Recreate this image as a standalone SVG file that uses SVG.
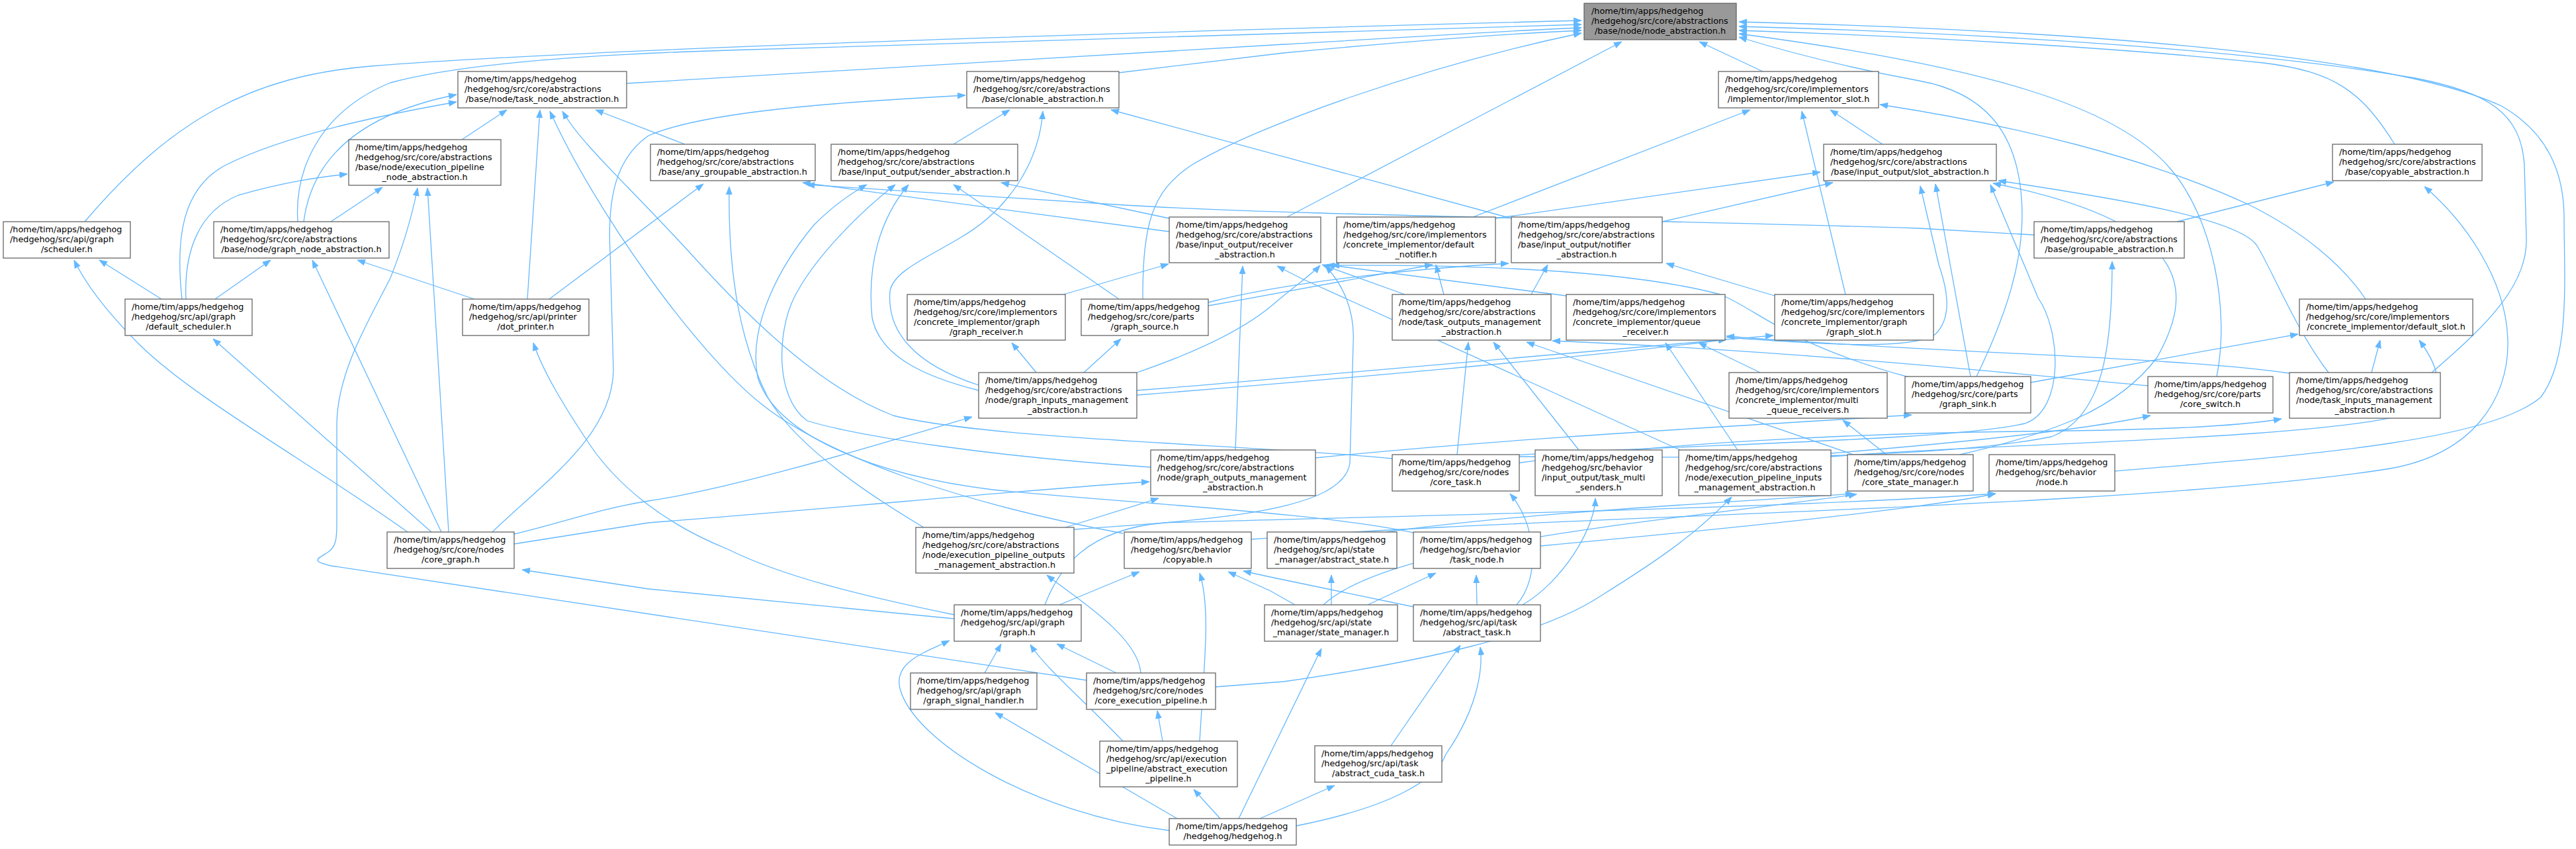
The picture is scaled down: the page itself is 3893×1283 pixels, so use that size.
<svg xmlns="http://www.w3.org/2000/svg" width="3893" height="1283" viewBox="0 0 3893 1283">
<style>
.node rect{fill:#ffffff;stroke:#666666;stroke-width:1.3}
#n1 rect{fill:#999999}
.t{font-family:"DejaVu Sans",sans-serif;font-size:12.8px;fill:#000}
.c{font-family:"DejaVu Sans",sans-serif;font-size:12.8px;fill:#000;text-anchor:middle}
#edges path{fill:none;stroke:#63b8ff;stroke-width:1.3;marker-end:url(#a)}
</style>
<defs>
<marker id="a" markerUnits="userSpaceOnUse" markerWidth="12" markerHeight="10" viewBox="0 0 12 10" refX="12" refY="5" orient="auto">
<path d="M0,0.5 L12,5 L0,9.5 z" fill="#63b8ff" stroke="#63b8ff" stroke-width="0.8"/>
</marker>
</defs>
<rect width="3893" height="1283" fill="#ffffff"/>
<g id="edges">
<path d="M128,335 C260,180 380,115 560,100 C750,85 1200,62 2390,31"/>
<path d="M450,335 C445,260 480,170 590,125 C700,95 900,82 1100,76 L2390,37"/>
<path d="M947,126 L1940,67 C2150,55 2300,45 2390,42"/>
<path d="M1690,110 L1940,80 C2150,60 2300,50 2390,46"/>
<path d="M1727,452 C1727,340 1740,290 1800,250 C1900,190 2150,100 2390,50"/>
<path d="M1945,328 L2451,63"/>
<path d="M2664,108 L2568,63"/>
<path d="M3196,712 C3450,690 3760,670 3840,600 C3885,540 3875,420 3875,330 C3875,260 3850,200 3780,160 C3650,100 3300,50 2628,33"/>
<path d="M3675,563 C3760,490 3820,430 3818,360 L3815,250 C3810,170 3760,140 3650,118 C3400,75 3000,50 2628,40"/>
<path d="M3619,218 C3570,140 3530,108 3420,95 C3200,72 2900,55 2628,46"/>
<path d="M3350,569 C3370,470 3345,330 3280,255 C3200,160 3000,100 2628,51"/>
<path d="M2987,569 C3030,480 3062,390 3055,300 C3048,200 3000,140 2900,122 C2780,100 2680,72 2628,56"/>
<path d="M459,335 C470,250 530,175 690,143"/>
<path d="M275,452 C265,360 275,285 340,250 C440,200 600,170 690,154"/>
<path d="M698,211 L766,166"/>
<path d="M797,452 L816,166"/>
<path d="M1697,806 C1450,760 1250,690 1150,610 C1050,530 900,320 831,168"/>
<path d="M2104,693 C1900,672 1500,665 1350,628 C1250,590 1150,500 1050,390 C950,280 880,220 850,168"/>
<path d="M1035,218 L900,166"/>
<path d="M244,452 L150,393"/>
<path d="M616,804 C470,700 290,600 210,520 C150,460 125,420 112,393"/>
<path d="M325,452 L409,393"/>
<path d="M667,804 L472,393"/>
<path d="M717,452 L540,393"/>
<path d="M281,452 C278,380 300,320 360,295 C430,275 480,268 525,263"/>
<path d="M500,335 L578,283"/>
<path d="M1642,1028 L500,855 C470,848 478,845 495,835 C508,826 509,815 509,790 L509,640 C510,560 560,480 590,420 C610,370 622,330 631,284"/>
<path d="M678,804 L646,284"/>
<path d="M652,804 L322,512"/>
<path d="M744,804 C820,730 925,660 927,560 L922,380 C918,300 930,240 980,205 C1060,170 1250,155 1459,144"/>
<path d="M1441,218 L1526,166"/>
<path d="M2284,330 L1679,166"/>
<path d="M1479,582 C1380,550 1340,500 1345,440 C1350,410 1400,390 1450,360 C1520,320 1570,250 1576,168"/>
<path d="M1479,590 C1400,570 1330,540 1318,480 C1310,400 1330,330 1373,279"/>
<path d="M830,452 L1063,278"/>
<path d="M1396,797 C1300,740 1200,670 1160,600 C1120,520 1100,420 1102,282"/>
<path d="M3074,355 L2900,345 C2400,330 1950,325 1700,310 C1450,295 1300,285 1219,279"/>
<path d="M1767,350 L1213,276"/>
<path d="M1767,330 L1513,276"/>
<path d="M1739,706 C1500,690 1300,660 1220,636 C1170,600 1175,500 1200,450 C1230,390 1300,320 1353,279"/>
<path d="M2136,805 C2000,775 1700,760 1500,740 C1300,715 1170,650 1145,570 C1130,490 1180,400 1230,340 C1260,310 1290,290 1310,279"/>
<path d="M1691,452 L1441,279"/>
<path d="M1607,445 L1766,399"/>
<path d="M1867,680 C1870,600 1875,480 1878,402"/>
<path d="M1718,563 C1800,535 1880,500 1930,455 C1960,430 1985,412 1995,401"/>
<path d="M1623,800 C1850,785 2030,770 2040,700 L2045,520 C2048,470 2030,430 2003,402"/>
<path d="M2367,447 L2005,400"/>
<path d="M2539,680 L1965,420 L1930,402"/>
<path d="M2123,445 L1998,400"/>
<path d="M2226,328 L2645,166"/>
<path d="M2789,445 L2723,168"/>
<path d="M2845,218 L2766,166"/>
<path d="M3575,452 C3540,400 3480,350 3400,310 C3250,240 3050,190 2841,158"/>
<path d="M2978,569 L2925,278"/>
<path d="M2512,335 L2770,276"/>
<path d="M2260,330 L2751,260"/>
<path d="M2609,510 C2750,520 2890,530 2925,505 C2950,480 2944,440 2930,400 L2902,281"/>
<path d="M2290,690 C2500,690 2900,700 3100,660 C3180,630 3192,520 3192,395"/>
<path d="M2285,688 C2600,670 2950,665 3060,640 C3120,620 3115,500 3080,450 L3008,279"/>
<path d="M3519,563 C3470,500 3430,400 3410,370 C3380,330 3200,300 3020,273"/>
<path d="M2962,687 C3100,655 3200,620 3260,540 C3310,450 3330,340 3012,277"/>
<path d="M3290,335 L3527,275"/>
<path d="M1891,815 C2300,780 3200,770 3600,710 C3740,690 3790,600 3790,520 C3790,420 3720,330 3664,282"/>
<path d="M3584,563 L3597,514"/>
<path d="M3069,578 L3473,505"/>
<path d="M2767,690 C3000,670 3500,665 3640,625 C3700,600 3690,560 3656,514"/>
<path d="M3460,564 C3300,540 2900,532 2609,508"/>
<path d="M2292,700 C2500,670 2800,655 3050,652 C3250,650 3380,645 3448,633"/>
<path d="M2202,687 L2219,517"/>
<path d="M2386,680 L2257,517"/>
<path d="M2801,687 L2307,517"/>
<path d="M3246,583 C3000,560 2700,530 2346,515"/>
<path d="M2626,680 L2517,518"/>
<path d="M2660,563 L2567,518"/>
<path d="M1718,597 C2000,575 2400,540 2609,513"/>
<path d="M1718,590 C2100,560 2500,520 2680,507"/>
<path d="M2682,447 L2518,398"/>
<path d="M2851,687 L2785,635"/>
<path d="M1988,692 C2300,660 2700,640 2889,627"/>
<path d="M2767,685 C2950,670 3150,650 3250,628"/>
<path d="M2182,445 L2170,400"/>
<path d="M2314,445 L2339,400"/>
<path d="M1826,457 C1950,425 2150,405 2280,398"/>
<path d="M1826,462 C1950,440 2080,415 2165,400"/>
<path d="M2885,570 C2700,520 2660,470 2600,445 C2450,405 2200,400 2012,401"/>
<path d="M2095,804 C2300,775 2600,760 2801,746"/>
<path d="M2000,914 C2100,820 2500,790 2806,747"/>
<path d="M1579,914 C1600,860 1640,800 1760,790 C2100,780 2700,768 3016,746"/>
<path d="M2328,825 C2600,800 2900,770 3016,746"/>
<path d="M777,807 C850,790 900,770 980,757 C1100,740 1300,680 1469,630"/>
<path d="M777,822 L980,790 C1300,765 1550,740 1737,728"/>
<path d="M1610,797 L1751,753"/>
<path d="M1566,563 L1529,518"/>
<path d="M1638,563 L1694,512"/>
<path d="M1767,1255 C1560,1230 1380,1120 1360,1040 C1350,1000 1400,985 1435,968"/>
<path d="M1779,1237 L1504,1077"/>
<path d="M1844,1237 L1804,1193"/>
<path d="M1872,1237 L1997,980"/>
<path d="M1904,1237 L2017,1187"/>
<path d="M1959,1248 C2100,1220 2170,1180 2185,1140 C2240,1060 2240,1000 2237,978"/>
<path d="M1813,1120 C1820,1000 1830,920 1813,866"/>
<path d="M1697,1120 C1640,1060 1580,1010 1557,974"/>
<path d="M1757,1120 L1749,1074"/>
<path d="M1687,1017 L1597,973"/>
<path d="M1724,1017 C1720,960 1620,900 1582,869"/>
<path d="M1837,1038 L1940,1030 C2150,1000 2330,960 2420,900 C2500,850 2560,810 2617,751"/>
<path d="M1601,914 L1722,864"/>
<path d="M1442,929 C1300,900 1180,870 1100,830 C1000,790 930,730 890,670 C850,610 820,560 806,518"/>
<path d="M1442,935 L980,890 L789,861"/>
<path d="M1488,1017 L1513,973"/>
<path d="M2232,914 L2231,869"/>
<path d="M2292,914 C2330,870 2320,790 2282,746"/>
<path d="M2301,914 C2360,880 2410,800 2411,753"/>
<path d="M2136,917 L1920,872 L1879,863"/>
<path d="M1957,914 L1920,893 L1856,864"/>
<path d="M2012,914 L2012,869"/>
<path d="M2067,914 L2170,866"/>
<path d="M2102,1127 L2207,975"/>
</g>
<g id="n1" class="node"><rect x="2394" y="5" width="230" height="55"/><text class="t" x="2405" y="21">/home/tim/apps/hedgehog</text><text class="t" x="2405" y="36">/hedgehog/src/core/abstractions</text><text class="c" x="2509" y="51">/base/node/node_abstraction.h</text></g>
<g id="n2" class="node"><rect x="692" y="108" width="255" height="55"/><text class="t" x="702" y="124">/home/tim/apps/hedgehog</text><text class="t" x="702" y="139">/hedgehog/src/core/abstractions</text><text class="c" x="819.5" y="154">/base/node/task_node_abstraction.h</text></g>
<g id="n3" class="node"><rect x="1461" y="108" width="230" height="55"/><text class="t" x="1471" y="124">/home/tim/apps/hedgehog</text><text class="t" x="1471" y="139">/hedgehog/src/core/abstractions</text><text class="c" x="1576" y="154">/base/clonable_abstraction.h</text></g>
<g id="n4" class="node"><rect x="2597" y="108" width="242" height="55"/><text class="t" x="2607" y="124">/home/tim/apps/hedgehog</text><text class="t" x="2607" y="139">/hedgehog/src/core/implementors</text><text class="c" x="2718" y="154">/implementor/implementor_slot.h</text></g>
<g id="n5" class="node"><rect x="527" y="211" width="230" height="69"/><text class="t" x="537" y="226.5">/home/tim/apps/hedgehog</text><text class="t" x="537" y="241.5">/hedgehog/src/core/abstractions</text><text class="t" x="537" y="256.5">/base/node/execution_pipeline</text><text class="c" x="642" y="271.5">_node_abstraction.h</text></g>
<g id="n6" class="node"><rect x="983" y="218" width="249" height="55"/><text class="t" x="993" y="234">/home/tim/apps/hedgehog</text><text class="t" x="993" y="249">/hedgehog/src/core/abstractions</text><text class="c" x="1107.5" y="264">/base/any_groupable_abstraction.h</text></g>
<g id="n7" class="node"><rect x="1256" y="218" width="282" height="55"/><text class="t" x="1266" y="234">/home/tim/apps/hedgehog</text><text class="t" x="1266" y="249">/hedgehog/src/core/abstractions</text><text class="c" x="1397" y="264">/base/input_output/sender_abstraction.h</text></g>
<g id="n8" class="node"><rect x="2756" y="218" width="261" height="55"/><text class="t" x="2766" y="234">/home/tim/apps/hedgehog</text><text class="t" x="2766" y="249">/hedgehog/src/core/abstractions</text><text class="c" x="2886.5" y="264">/base/input_output/slot_abstraction.h</text></g>
<g id="n9" class="node"><rect x="3525" y="218" width="226" height="55"/><text class="t" x="3535" y="234">/home/tim/apps/hedgehog</text><text class="t" x="3535" y="249">/hedgehog/src/core/abstractions</text><text class="c" x="3638" y="264">/base/copyable_abstraction.h</text></g>
<g id="n10" class="node"><rect x="5" y="335" width="192" height="55"/><text class="t" x="15" y="351">/home/tim/apps/hedgehog</text><text class="t" x="15" y="366">/hedgehog/src/api/graph</text><text class="c" x="101" y="381">/scheduler.h</text></g>
<g id="n11" class="node"><rect x="323" y="335" width="265" height="55"/><text class="t" x="333" y="351">/home/tim/apps/hedgehog</text><text class="t" x="333" y="366">/hedgehog/src/core/abstractions</text><text class="c" x="455.5" y="381">/base/node/graph_node_abstraction.h</text></g>
<g id="n12" class="node"><rect x="1767" y="328" width="229" height="69"/><text class="t" x="1777" y="343.5">/home/tim/apps/hedgehog</text><text class="t" x="1777" y="358.5">/hedgehog/src/core/abstractions</text><text class="t" x="1777" y="373.5">/base/input_output/receiver</text><text class="c" x="1881.5" y="388.5">_abstraction.h</text></g>
<g id="n13" class="node"><rect x="2020" y="328" width="240" height="69"/><text class="t" x="2030" y="343.5">/home/tim/apps/hedgehog</text><text class="t" x="2030" y="358.5">/hedgehog/src/core/implementors</text><text class="t" x="2030" y="373.5">/concrete_implementor/default</text><text class="c" x="2140" y="388.5">_notifier.h</text></g>
<g id="n14" class="node"><rect x="2284" y="328" width="228" height="69"/><text class="t" x="2294" y="343.5">/home/tim/apps/hedgehog</text><text class="t" x="2294" y="358.5">/hedgehog/src/core/abstractions</text><text class="t" x="2294" y="373.5">/base/input_output/notifier</text><text class="c" x="2398" y="388.5">_abstraction.h</text></g>
<g id="n15" class="node"><rect x="3074" y="335" width="227" height="55"/><text class="t" x="3084" y="351">/home/tim/apps/hedgehog</text><text class="t" x="3084" y="366">/hedgehog/src/core/abstractions</text><text class="c" x="3187.5" y="381">/base/groupable_abstraction.h</text></g>
<g id="n16" class="node"><rect x="189" y="452" width="192" height="55"/><text class="t" x="199" y="468">/home/tim/apps/hedgehog</text><text class="t" x="199" y="483">/hedgehog/src/api/graph</text><text class="c" x="285" y="498">/default_scheduler.h</text></g>
<g id="n17" class="node"><rect x="699" y="452" width="191" height="55"/><text class="t" x="709" y="468">/home/tim/apps/hedgehog</text><text class="t" x="709" y="483">/hedgehog/src/api/printer</text><text class="c" x="794.5" y="498">/dot_printer.h</text></g>
<g id="n18" class="node"><rect x="1371" y="445" width="239" height="69"/><text class="t" x="1381" y="460.5">/home/tim/apps/hedgehog</text><text class="t" x="1381" y="475.5">/hedgehog/src/core/implementors</text><text class="t" x="1381" y="490.5">/concrete_implementor/graph</text><text class="c" x="1490.5" y="505.5">/graph_receiver.h</text></g>
<g id="n19" class="node"><rect x="1634" y="452" width="192" height="55"/><text class="t" x="1644" y="468">/home/tim/apps/hedgehog</text><text class="t" x="1644" y="483">/hedgehog/src/core/parts</text><text class="c" x="1730" y="498">/graph_source.h</text></g>
<g id="n20" class="node"><rect x="2104" y="445" width="240" height="69"/><text class="t" x="2114" y="460.5">/home/tim/apps/hedgehog</text><text class="t" x="2114" y="475.5">/hedgehog/src/core/abstractions</text><text class="t" x="2114" y="490.5">/node/task_outputs_management</text><text class="c" x="2224" y="505.5">_abstraction.h</text></g>
<g id="n21" class="node"><rect x="2367" y="445" width="240" height="69"/><text class="t" x="2377" y="460.5">/home/tim/apps/hedgehog</text><text class="t" x="2377" y="475.5">/hedgehog/src/core/implementors</text><text class="t" x="2377" y="490.5">/concrete_implementor/queue</text><text class="c" x="2487" y="505.5">_receiver.h</text></g>
<g id="n22" class="node"><rect x="2682" y="445" width="240" height="69"/><text class="t" x="2692" y="460.5">/home/tim/apps/hedgehog</text><text class="t" x="2692" y="475.5">/hedgehog/src/core/implementors</text><text class="t" x="2692" y="490.5">/concrete_implementor/graph</text><text class="c" x="2802" y="505.5">/graph_slot.h</text></g>
<g id="n23" class="node"><rect x="3475" y="452" width="262" height="55"/><text class="t" x="3485" y="468">/home/tim/apps/hedgehog</text><text class="t" x="3485" y="483">/hedgehog/src/core/implementors</text><text class="c" x="3606" y="498">/concrete_implementor/default_slot.h</text></g>
<g id="n24" class="node"><rect x="1479" y="563" width="239" height="69"/><text class="t" x="1489" y="578.5">/home/tim/apps/hedgehog</text><text class="t" x="1489" y="593.5">/hedgehog/src/core/abstractions</text><text class="t" x="1489" y="608.5">/node/graph_inputs_management</text><text class="c" x="1598.5" y="623.5">_abstraction.h</text></g>
<g id="n25" class="node"><rect x="2613" y="563" width="239" height="69"/><text class="t" x="2623" y="578.5">/home/tim/apps/hedgehog</text><text class="t" x="2623" y="593.5">/hedgehog/src/core/implementors</text><text class="t" x="2623" y="608.5">/concrete_implementor/multi</text><text class="c" x="2732.5" y="623.5">_queue_receivers.h</text></g>
<g id="n26" class="node"><rect x="2879" y="569" width="190" height="55"/><text class="t" x="2889" y="585">/home/tim/apps/hedgehog</text><text class="t" x="2889" y="600">/hedgehog/src/core/parts</text><text class="c" x="2974" y="615">/graph_sink.h</text></g>
<g id="n27" class="node"><rect x="3246" y="569" width="189" height="55"/><text class="t" x="3256" y="585">/home/tim/apps/hedgehog</text><text class="t" x="3256" y="600">/hedgehog/src/core/parts</text><text class="c" x="3340.5" y="615">/core_switch.h</text></g>
<g id="n28" class="node"><rect x="3460" y="563" width="228" height="69"/><text class="t" x="3470" y="578.5">/home/tim/apps/hedgehog</text><text class="t" x="3470" y="593.5">/hedgehog/src/core/abstractions</text><text class="t" x="3470" y="608.5">/node/task_inputs_management</text><text class="c" x="3574" y="623.5">_abstraction.h</text></g>
<g id="n29" class="node"><rect x="1739" y="680" width="249" height="69"/><text class="t" x="1749" y="695.5">/home/tim/apps/hedgehog</text><text class="t" x="1749" y="710.5">/hedgehog/src/core/abstractions</text><text class="t" x="1749" y="725.5">/node/graph_outputs_management</text><text class="c" x="1863.5" y="740.5">_abstraction.h</text></g>
<g id="n30" class="node"><rect x="2104" y="687" width="192" height="55"/><text class="t" x="2114" y="703">/home/tim/apps/hedgehog</text><text class="t" x="2114" y="718">/hedgehog/src/core/nodes</text><text class="c" x="2200" y="733">/core_task.h</text></g>
<g id="n31" class="node"><rect x="2320" y="680" width="192" height="69"/><text class="t" x="2330" y="695.5">/home/tim/apps/hedgehog</text><text class="t" x="2330" y="710.5">/hedgehog/src/behavior</text><text class="t" x="2330" y="725.5">/input_output/task_multi</text><text class="c" x="2416" y="740.5">_senders.h</text></g>
<g id="n32" class="node"><rect x="2537" y="680" width="230" height="69"/><text class="t" x="2547" y="695.5">/home/tim/apps/hedgehog</text><text class="t" x="2547" y="710.5">/hedgehog/src/core/abstractions</text><text class="t" x="2547" y="725.5">/node/execution_pipeline_inputs</text><text class="c" x="2652" y="740.5">_management_abstraction.h</text></g>
<g id="n33" class="node"><rect x="2792" y="687" width="190" height="55"/><text class="t" x="2802" y="703">/home/tim/apps/hedgehog</text><text class="t" x="2802" y="718">/hedgehog/src/core/nodes</text><text class="c" x="2887" y="733">/core_state_manager.h</text></g>
<g id="n34" class="node"><rect x="3006" y="687" width="190" height="55"/><text class="t" x="3016" y="703">/home/tim/apps/hedgehog</text><text class="t" x="3016" y="718">/hedgehog/src/behavior</text><text class="c" x="3101" y="733">/node.h</text></g>
<g id="n35" class="node"><rect x="585" y="804" width="192" height="55"/><text class="t" x="595" y="820">/home/tim/apps/hedgehog</text><text class="t" x="595" y="835">/hedgehog/src/core/nodes</text><text class="c" x="681" y="850">/core_graph.h</text></g>
<g id="n36" class="node"><rect x="1384" y="797" width="239" height="69"/><text class="t" x="1394" y="812.5">/home/tim/apps/hedgehog</text><text class="t" x="1394" y="827.5">/hedgehog/src/core/abstractions</text><text class="t" x="1394" y="842.5">/node/execution_pipeline_outputs</text><text class="c" x="1503.5" y="857.5">_management_abstraction.h</text></g>
<g id="n37" class="node"><rect x="1699" y="804" width="192" height="55"/><text class="t" x="1709" y="820">/home/tim/apps/hedgehog</text><text class="t" x="1709" y="835">/hedgehog/src/behavior</text><text class="c" x="1795" y="850">/copyable.h</text></g>
<g id="n38" class="node"><rect x="1915" y="804" width="196" height="55"/><text class="t" x="1925" y="820">/home/tim/apps/hedgehog</text><text class="t" x="1925" y="835">/hedgehog/src/api/state</text><text class="c" x="2013" y="850">_manager/abstract_state.h</text></g>
<g id="n39" class="node"><rect x="2136" y="804" width="192" height="55"/><text class="t" x="2146" y="820">/home/tim/apps/hedgehog</text><text class="t" x="2146" y="835">/hedgehog/src/behavior</text><text class="c" x="2232" y="850">/task_node.h</text></g>
<g id="n40" class="node"><rect x="1442" y="914" width="192" height="55"/><text class="t" x="1452" y="930">/home/tim/apps/hedgehog</text><text class="t" x="1452" y="945">/hedgehog/src/api/graph</text><text class="c" x="1538" y="960">/graph.h</text></g>
<g id="n41" class="node"><rect x="1911" y="914" width="201" height="55"/><text class="t" x="1921" y="930">/home/tim/apps/hedgehog</text><text class="t" x="1921" y="945">/hedgehog/src/api/state</text><text class="c" x="2011.5" y="960">_manager/state_manager.h</text></g>
<g id="n42" class="node"><rect x="2136" y="914" width="192" height="55"/><text class="t" x="2146" y="930">/home/tim/apps/hedgehog</text><text class="t" x="2146" y="945">/hedgehog/src/api/task</text><text class="c" x="2232" y="960">/abstract_task.h</text></g>
<g id="n43" class="node"><rect x="1376" y="1017" width="191" height="55"/><text class="t" x="1386" y="1033">/home/tim/apps/hedgehog</text><text class="t" x="1386" y="1048">/hedgehog/src/api/graph</text><text class="c" x="1471.5" y="1063">/graph_signal_handler.h</text></g>
<g id="n44" class="node"><rect x="1642" y="1017" width="195" height="55"/><text class="t" x="1652" y="1033">/home/tim/apps/hedgehog</text><text class="t" x="1652" y="1048">/hedgehog/src/core/nodes</text><text class="c" x="1739.5" y="1063">/core_execution_pipeline.h</text></g>
<g id="n45" class="node"><rect x="1662" y="1120" width="208" height="69"/><text class="t" x="1672" y="1135.5">/home/tim/apps/hedgehog</text><text class="t" x="1672" y="1150.5">/hedgehog/src/api/execution</text><text class="t" x="1672" y="1165.5">_pipeline/abstract_execution</text><text class="c" x="1766" y="1180.5">_pipeline.h</text></g>
<g id="n46" class="node"><rect x="1987" y="1127" width="192" height="55"/><text class="t" x="1997" y="1143">/home/tim/apps/hedgehog</text><text class="t" x="1997" y="1158">/hedgehog/src/api/task</text><text class="c" x="2083" y="1173">/abstract_cuda_task.h</text></g>
<g id="n47" class="node"><rect x="1767" y="1237" width="192" height="40"/><text class="t" x="1777" y="1253">/home/tim/apps/hedgehog</text><text class="c" x="1863" y="1268">/hedgehog/hedgehog.h</text></g>
</svg>
